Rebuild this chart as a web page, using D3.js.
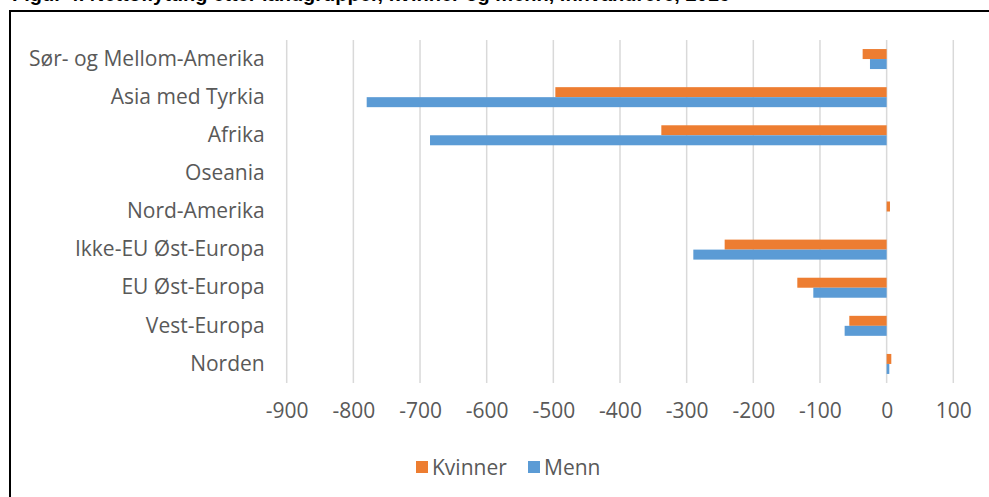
<!DOCTYPE html>
<html>
<head>
    <meta charset="UTF-8">
    <title>Nettoflytting etter landgrupper</title>
</head>
<style>
    body { margin: 0; background: #fff; }
    svg { display: block; }
    .tick text, .cat text, .legend text {
        font-family: "Open Sans", Lato, sans-serif;
        fill: #595959;
    }
    .title {
        font-family: "Liberation Sans", Arial, sans-serif;
        font-weight: bold;
        font-size: 20px;
        fill: #000;
    }
</style>
<body>
<svg width="989" height="497"></svg>
<script src="https://d3js.org/d3.v7.min.js"></script>
<script>

    // categories top to bottom as in the chart
    var categories = ["Sør- og Mellom-Amerika", "Asia med Tyrkia", "Afrika", "Oseania",
        "Nord-Amerika", "Ikke-EU Øst-Europa", "EU Øst-Europa", "Vest-Europa", "Norden"];
    var kvinner = [-36, -497, -338, 0, 5, -243, -134, -56, 7];
    var menn = [-25, -780, -685, 0, 0, -290, -110, -63, 4];
    var xTicks = [-900, -800, -700, -600, -500, -400, -300, -200, -100, 0, 100];
    var seriesNames = ["Kvinner", "Menn"];
    var colors = ["#ED7D31", "#5B9BD5"];

    var svg = d3.select("svg");

    // title, cut off above the frame in the original
    svg.append("text")
        .attr("class", "title")
        .attr("x", 12)
        .attr("y", 1)
        .text("Figur 4. Nettoflytting etter landgrupper, kvinner og menn, innvandrere, 2016");

    // frame
    svg.append("rect")
        .attr("x", 10).attr("y", 11)
        .attr("width", 1000).attr("height", 520)
        .attr("fill", "none")
        .attr("stroke", "#000")
        .attr("stroke-width", 2);

    var x = d3.scaleLinear().domain([-900, 100]).range([286.7, 953.3]);
    var y = d3.scaleBand().domain(categories).range([40, 383]);

    // gridlines
    svg.append("g")
        .selectAll("line")
        .data(xTicks)
        .enter().append("line")
        .attr("x1", function(d) { return x(d); })
        .attr("x2", function(d) { return x(d); })
        .attr("y1", y.range()[0])
        .attr("y2", y.range()[1])
        .attr("stroke", "#D9D9D9")
        .attr("stroke-width", 1.5);

    // x axis labels (plain hyphen like the original)
    var xAxis = d3.axisBottom(x).tickValues(xTicks).tickSize(0).tickPadding(20)
        .tickFormat(function(d) { return String(d); });
    var gx = svg.append("g")
        .attr("transform", "translate(0," + y.range()[1] + ")")
        .call(xAxis);
    gx.select(".domain").remove();
    gx.selectAll("text").style("font-size", "21px");

    // category labels
    var yAxis = d3.axisLeft(y).tickSize(0).tickPadding(22);
    var gy = svg.append("g")
        .attr("class", "cat")
        .attr("transform", "translate(" + x(-900) + ",0)")
        .call(yAxis);
    gy.select(".domain").remove();
    gy.selectAll("text").style("font-size", "21px");

    // bars
    var series = [kvinner, menn];
    series.forEach(function(vals, s) {
        svg.append("g")
            .selectAll("rect")
            .data(vals)
            .enter().append("rect")
            .attr("x", function(d) { return Math.min(x(d), x(0)); })
            .attr("width", function(d) { return Math.abs(x(d) - x(0)); })
            .attr("y", function(d, i) { return y(categories[i]) + y.bandwidth() / 2 - 10 + s * 10; })
            .attr("height", 10)
            .attr("fill", colors[s]);
    });

    // legend
    var legend = svg.append("g").attr("class", "legend");
    var lx = [416, 528];
    seriesNames.forEach(function(name, i) {
        legend.append("rect")
            .attr("x", lx[i]).attr("y", 461)
            .attr("width", 12).attr("height", 12)
            .attr("fill", colors[i]);
        legend.append("text")
            .attr("x", lx[i] + 16).attr("y", 475)
            .style("font-size", "21px")
            .text(name);
    });

</script>
</body>
</html>
